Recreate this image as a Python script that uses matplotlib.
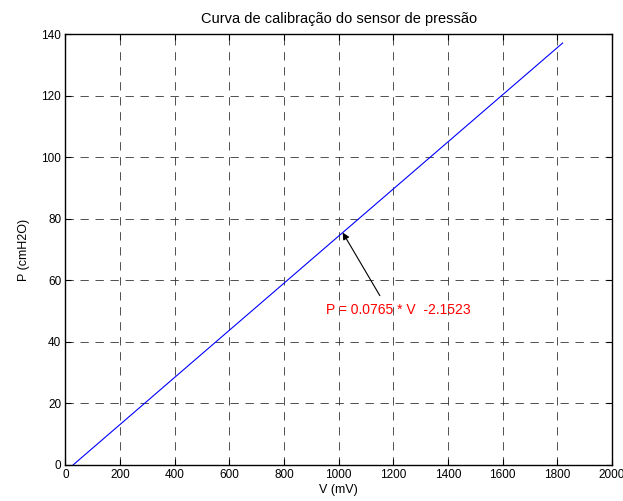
import numpy as np
import matplotlib
matplotlib.use("Agg")
import matplotlib.pyplot as plt

plt.rcParams['font.family'] = ['Liberation Sans', 'DejaVu Sans']

# calibration fit P = a*V + b
a = 0.0765
b = -2.1523
v_start, v_end = 28.1, 1820
x_ticks = [0, 200, 400, 600, 800, 1000, 1200, 1400, 1600, 1800, 2000]
y_ticks = [0, 20, 40, 60, 80, 100, 120, 140]
eq_text = "P = 0.0765 * V  -2.1523"

V = np.array([v_start, v_end])
P = a * V + b

fig = plt.figure(figsize=(6.23, 5.01), dpi=100)
ax = fig.add_axes([0.105, 0.072, 0.877, 0.860])

ax.plot(V, P, color='blue', lw=0.8)
ax.set_xlim(0, 2000)
ax.set_ylim(0, 140)
ax.set_xticks(x_ticks)
ax.set_yticks(y_ticks)
ax.tick_params(direction='in', top=True, right=True, length=4, width=0.8,
               labelsize=8.5, pad=3)
ax.grid(True, color='#333333', lw=0.6, ls=(0, (10, 8)))
for s in ax.spines.values():
    s.set_linewidth(1.0)

ax.set_title("Curva de calibração do sensor de pressão", fontsize=10.5, pad=8)
ax.set_xlabel("V (mV)", fontsize=9, labelpad=2)
ax.set_ylabel("P (cmH2O)", fontsize=9, labelpad=8)

ax.annotate("", xy=(1015, a * 1015 + b), xytext=(1151, 55),
            arrowprops=dict(arrowstyle='-|>', color='black', lw=0.8,
                            mutation_scale=10, shrinkA=0, shrinkB=0))
ax.text(1217, 50.2, eq_text, color='red', fontsize=10, ha='center', va='center')

fig.savefig("out.png", dpi=100)
